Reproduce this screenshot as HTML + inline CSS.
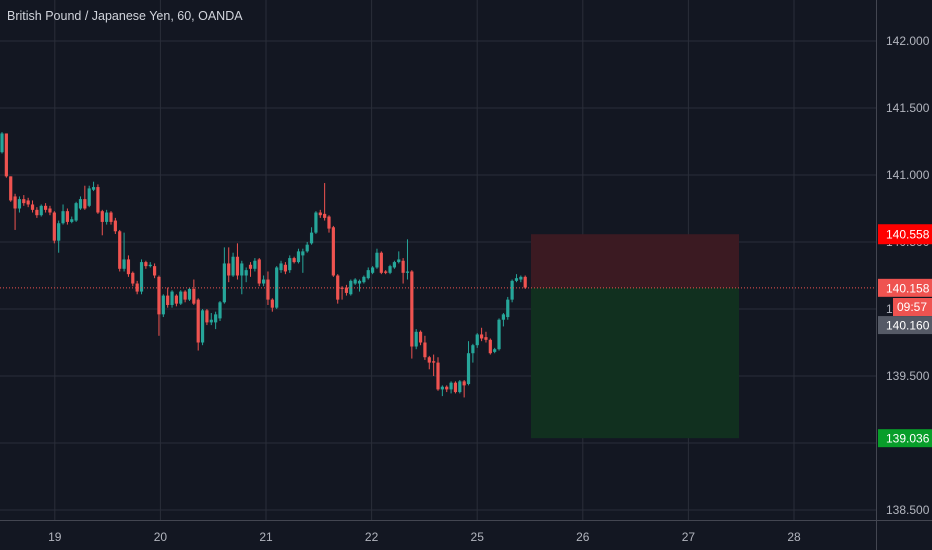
<!DOCTYPE html>
<html><head><meta charset="utf-8"><style>
body{margin:0;background:#131722;width:932px;height:550px;overflow:hidden;font-family:"Liberation Sans",sans-serif}
svg{display:block}
</style></head><body>
<svg id="c" width="932" height="550">
<rect width="932" height="550" fill="#131722"/>
<g id="grid"></g><g id="box"></g><g id="candles"></g><g id="axes"></g>
<text x="7" y="20" fill="#d1d4dc" font-size="12.5">British Pound / Japanese Yen, 60, OANDA</text>
</svg>
<script>
const opens=[141.17,141.31,140.99,140.84,140.75,140.82,140.81,140.78,140.74,140.70,140.77,140.75,140.72,140.51,140.64,140.73,140.65,140.66,140.75,140.82,140.77,140.89,140.91,140.73,140.65,140.72,140.66,140.58,140.30,140.37,140.27,140.19,140.13,140.35,140.32,140.32,140.24,139.96,140.10,140.03,140.10,140.04,140.13,140.07,140.15,140.07,139.75,139.99,139.90,139.90,139.93,140.05,140.34,140.25,140.39,140.25,140.25,140.33,140.30,140.37,140.19,140.22,140.07,140.01,140.29,140.33,140.29,140.38,140.35,140.40,140.43,140.49,140.57,140.72,140.71,140.69,140.61,140.25,140.16,140.16,140.11,140.19,140.19,140.20,140.23,140.27,140.31,140.42,140.28,140.27,140.31,140.35,140.36,140.27,140.28,139.72,139.83,139.75,139.64,139.61,139.60,139.40,139.42,139.40,139.45,139.38,139.46,139.44,139.67,139.73,139.81,139.79,139.77,139.68,139.70,139.92,139.94,140.07,140.21,140.22,140.24];
const closes=[141.31,140.99,140.81,140.75,140.82,140.79,140.78,140.74,140.70,140.77,140.74,140.72,140.51,140.64,140.73,140.65,140.67,140.79,140.82,140.75,140.90,140.91,140.72,140.65,140.72,140.65,140.58,140.30,140.37,140.26,140.19,140.13,140.35,140.32,140.33,140.25,139.96,140.10,140.03,140.13,140.04,140.13,140.07,140.15,140.04,139.75,139.99,139.90,139.92,139.96,140.05,140.34,140.25,140.39,140.25,140.34,140.29,140.30,140.36,140.19,140.22,140.07,140.01,140.31,140.34,140.28,140.38,140.35,140.43,140.43,140.48,140.57,140.72,140.70,140.68,140.60,140.25,140.07,140.15,140.12,140.21,140.22,140.21,140.24,140.29,140.31,140.42,140.27,140.27,140.32,140.35,140.37,140.27,140.28,139.72,139.83,139.75,139.64,139.60,139.60,139.40,139.42,139.40,139.45,139.38,139.46,139.43,139.67,139.73,139.81,139.78,139.77,139.67,139.70,139.92,139.96,140.07,140.21,140.23,140.24,140.16];
const highs=[141.32,141.31,140.99,140.86,140.84,140.85,140.83,140.81,140.76,140.78,140.79,140.77,140.73,140.66,140.78,140.75,140.69,140.80,140.84,140.92,140.92,140.95,140.93,140.74,140.74,140.73,140.68,140.59,140.57,140.40,140.28,140.21,140.37,140.36,140.35,140.34,140.25,140.11,140.16,140.14,140.11,140.14,140.14,140.16,140.22,140.08,140.00,140.00,139.97,139.98,140.06,140.46,140.46,140.42,140.49,140.36,140.31,140.35,140.38,140.38,140.25,140.28,140.08,140.32,140.36,140.35,140.40,140.39,140.45,140.45,140.50,140.61,140.73,140.74,140.94,140.70,140.62,140.26,140.17,140.18,140.22,140.23,140.22,140.25,140.31,140.32,140.45,140.43,140.29,140.33,140.36,140.43,140.38,140.52,140.29,139.85,139.84,139.80,139.65,139.66,139.64,139.43,139.43,139.46,139.46,139.47,139.47,139.76,139.74,139.82,139.86,139.83,139.78,139.71,139.93,139.97,140.09,140.22,140.26,140.25,140.25];
const lows=[141.16,140.98,140.80,140.59,140.72,140.77,140.76,140.72,140.68,140.69,140.72,140.70,140.49,140.42,140.63,140.63,140.64,140.65,140.74,140.74,140.76,140.88,140.71,140.55,140.63,140.63,140.56,140.28,140.28,140.24,140.17,140.11,140.11,140.30,140.31,140.23,139.80,139.94,140.01,140.01,140.02,140.03,140.05,140.06,140.03,139.69,139.73,139.88,139.88,139.85,139.91,140.04,140.20,140.24,140.22,140.11,140.20,140.24,140.28,140.17,140.17,140.03,139.98,140.00,140.27,140.26,140.27,140.34,140.34,140.27,140.42,140.48,140.56,140.68,140.66,140.57,140.24,140.04,140.07,140.10,140.10,140.18,140.13,140.19,140.22,140.26,140.30,140.26,140.26,140.26,140.30,140.34,140.19,140.22,139.63,139.70,139.73,139.62,139.55,139.50,139.39,139.35,139.38,139.37,139.37,139.37,139.34,139.43,139.60,139.71,139.76,139.75,139.66,139.67,139.69,139.87,139.92,140.05,140.20,140.20,140.15];
const dayLabels=["19","20","21","22","25","26","27","28"];
const priceTicks=[142.0,141.5,141.0,140.5,140.0,139.5,139.0,138.5];
const lastPrice=140.158, stopPrice=140.558, targetPrice=139.036, bidPrice=140.160;

const NS="http://www.w3.org/2000/svg";
const y=p=>309-(p-140)*134;
const x=i=>2+i*4.36;
const dayX=k=>2+(12+24*k)*4.4;
const plotR=876;
function mk(par,tag,at,txt){const e=document.createElementNS(NS,tag);for(const k in at)e.setAttribute(k,at[k]);if(txt!==undefined)e.textContent=txt;document.getElementById(par).appendChild(e);return e;}
priceTicks.forEach((p,k)=>{
 const l=mk('grid','line',{x1:0,x2:plotR,y1:y(p),y2:y(p),stroke:'#2a2e39'});
 
 
 const t=mk('axes','text',{x:886,y:y(p)+4,fill:'#b2b5be','font-size':12},p.toFixed(3));
 
 
});
dayLabels.forEach((d,k)=>{
 const xi=dayX(k);
 const l=mk('grid','line',{x1:xi,x2:xi,y1:0,y2:520,stroke:'#2a2e39'});
 
 
 const t=mk('axes','text',{x:xi,y:541,fill:'#b2b5be','font-size':12,'text-anchor':'middle'},d);
 
 
});
const bx0=531,bx1=739;
let r=mk('box','rect',{x:bx0,y:y(stopPrice),width:bx1-bx0,height:y(lastPrice)-y(stopPrice),fill:'#3b1a22'});


r=mk('box','rect',{x:bx0,y:y(lastPrice),width:bx1-bx0,height:y(targetPrice)-y(lastPrice),fill:'#11301f'});


opens.forEach((o,i)=>{
 const c=closes[i],up=c>=o,col=up?'#26a69a':'#ef5350',cx=x(i);
 const w=mk('candles','line',{x1:cx,x2:cx,y1:y(highs[i]),y2:y(lows[i]),stroke:col,'stroke-width':1});
 
 
 const top=y(Math.max(o,c)),h=Math.max(1,Math.abs(y(o)-y(c)));
 const b=mk('candles','rect',{x:cx-1.6,y:top,width:3.2,height:h,fill:col});
 
 
});
let pl=mk('axes','line',{x1:0,x2:plotR,y1:y(lastPrice),y2:y(lastPrice),stroke:'#ef5350','stroke-dasharray':'1,2'});


let ab=mk('axes','rect',{x:plotR,y:0,width:56,height:550,fill:'none'});


let sep=mk('axes','line',{x1:plotR+0.5,x2:plotR+0.5,y1:0,y2:550,stroke:'#434651'});


let bs=mk('axes','line',{x1:0,x2:932,y1:520.5,y2:520.5,stroke:'#434651'});


function badge(p,col,name,txt,x0,h){
 const cy=y(p);
 const g=mk('axes','rect',{x:x0,y:cy-h/2,width:932-x0,height:h,fill:col});
 
 
 const t=mk('axes','text',{x:x0+8,y:cy+4.5,fill:'#fff','font-size':12},txt);
 
 
}
badge(stopPrice,'#ff0000','stop-price-label',stopPrice.toFixed(3),878,20);
badge(lastPrice,'#ef5350','last-price-label',lastPrice.toFixed(3),878,18);
badge(bidPrice-0.28,'#555a66','bid-price-label',bidPrice.toFixed(3),878,18);
badge(targetPrice,'#089e2a','target-price-label',targetPrice.toFixed(3),878,18);
const cd=mk('axes','rect',{x:893,y:298,width:39,height:18,fill:'#ef5350'});


const ct=mk('axes','text',{x:897,y:311,fill:'#fff','font-size':12},'09:57');


</script>
</body></html>
